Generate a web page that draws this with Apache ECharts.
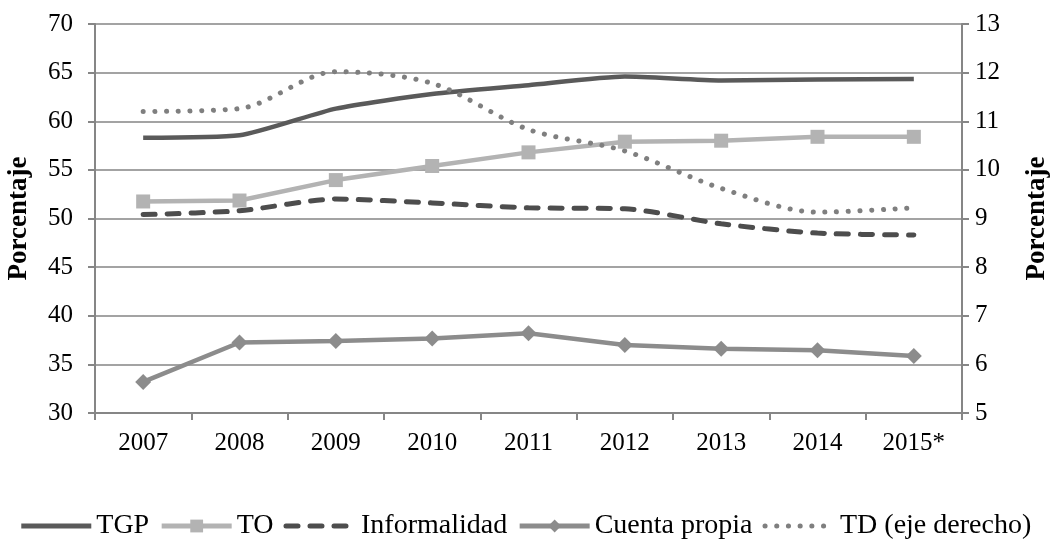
<!DOCTYPE html>
<html>
<head>
<meta charset="utf-8">
<script src="https://cdn.jsdelivr.net/npm/echarts@6/dist/echarts.min.js"></script>
<style>
html,body{margin:0;padding:0;background:#fff;}
#chart{width:1050px;height:546px;}
</style>
</head>
<body>
<div id="chart"></div>
<script>
const categories = ['2007','2008','2009','2010','2011','2012','2013','2014','2015*'];
const tgp = [58.3, 58.55, 61.3, 62.8, 63.7, 64.6, 64.2, 64.3, 64.35];
const to = [51.75, 51.85, 53.95, 55.4, 56.8, 57.9, 58.0, 58.4, 58.4];
const informalidad = [50.4, 50.8, 52.0, 51.6, 51.1, 51.0, 49.45, 48.5, 48.3];
const cuentaPropia = [33.2, 37.25, 37.4, 37.65, 38.2, 37.0, 36.6, 36.45, 35.85];
const td = [11.2, 11.26, 12.02, 11.78, 10.83, 10.39, 9.62, 9.13, 9.22];
const legendNames = ['TGP', 'TO', 'Informalidad', 'Cuenta propia', 'TD (eje derecho)'];
const legendHasMarker = [false, true, false, true, false];

const FONT = '"Liberation Serif", serif';
const axisGray = '#868686';
const gridGray = '#a3a3a3';

const chart = echarts.init(document.getElementById('chart'), null, {renderer: 'canvas'});
chart.setOption({
  animation: false,
  backgroundColor: '#ffffff',
  textStyle: {fontFamily: FONT},
  grid: {left: 95, right: 88, top: 24, bottom: 133, containLabel: false, outerBoundsMode: 'none'},
  legend: {
    bottom: 1,
    left: 'center',
    padding: [5, 0, 5, 22],
    itemWidth: 70,
    itemHeight: 16,
    itemGap: 10,
    lineStyle: {width: 5},
    textStyle: {fontFamily: FONT, fontSize: 28, color: '#000'},
    data: legendNames.map((n, i) => legendHasMarker[i] ? {name: n} : {name: n, itemStyle: {opacity: 0}})
  },
  xAxis: {
    type: 'category',
    data: categories,
    boundaryGap: true,
    axisLine: {lineStyle: {color: axisGray, width: 2}},
    axisTick: {show: true, inside: false, length: 7, alignWithLabel: false, lineStyle: {color: axisGray, width: 2}},
    axisLabel: {fontFamily: FONT, fontSize: 25, color: '#000', margin: 18},
    splitLine: {show: false}
  },
  yAxis: [
    {
      type: 'value', min: 30, max: 70, interval: 5,
      name: 'Porcentaje', nameLocation: 'middle', nameGap: 62,
      nameTextStyle: {fontFamily: FONT, fontSize: 27, fontWeight: 'bold', color: '#000'},
      axisLine: {show: true, lineStyle: {color: axisGray, width: 2}},
      axisTick: {show: true, length: 7, lineStyle: {color: axisGray, width: 2}},
      axisLabel: {fontFamily: FONT, fontSize: 25, color: '#000', margin: 22},
      splitLine: {show: true, lineStyle: {color: gridGray, width: 2}}
    },
    {
      type: 'value', min: 5, max: 13, interval: 1,
      name: 'Porcentaje', nameLocation: 'middle', nameGap: 62,
      nameTextStyle: {fontFamily: FONT, fontSize: 27, fontWeight: 'bold', color: '#000'},
      position: 'right',
      axisLine: {show: true, lineStyle: {color: axisGray, width: 2}},
      axisTick: {show: true, length: 7, lineStyle: {color: axisGray, width: 2}},
      axisLabel: {fontFamily: FONT, fontSize: 25, color: '#000', margin: 13},
      splitLine: {show: false}
    }
  ],
  series: [
    {
      name: 'TGP', type: 'line', data: tgp, yAxisIndex: 0, smooth: 0.2,
      symbol: 'none',
      lineStyle: {color: '#5a5a5a', width: 4.5},
      itemStyle: {color: '#5a5a5a'}
    },
    {
      name: 'TO', type: 'line', data: to, yAxisIndex: 0,
      symbol: 'rect', symbolSize: 14,
      lineStyle: {color: '#b3b3b3', width: 4.5},
      itemStyle: {color: '#b3b3b3'}
    },
    {
      name: 'Informalidad', type: 'line', data: informalidad, yAxisIndex: 0, smooth: 0.25,
      symbol: 'none',
      lineStyle: {color: '#4d4d4d', width: 5, type: [12, 12], cap: 'round'},
      itemStyle: {color: '#4d4d4d'}
    },
    {
      name: 'Cuenta propia', type: 'line', data: cuentaPropia, yAxisIndex: 0,
      symbol: 'diamond', symbolSize: 16,
      lineStyle: {color: '#8c8c8c', width: 4.5},
      itemStyle: {color: '#8c8c8c'}
    },
    {
      name: 'TD (eje derecho)', type: 'line', data: td, yAxisIndex: 1, smooth: 0.3,
      symbol: 'none',
      lineStyle: {color: '#7f7f7f', width: 5, type: [0.1, 11.6], cap: 'round'},
      itemStyle: {color: '#7f7f7f'}
    }
  ]
});
</script>
</body>
</html>
